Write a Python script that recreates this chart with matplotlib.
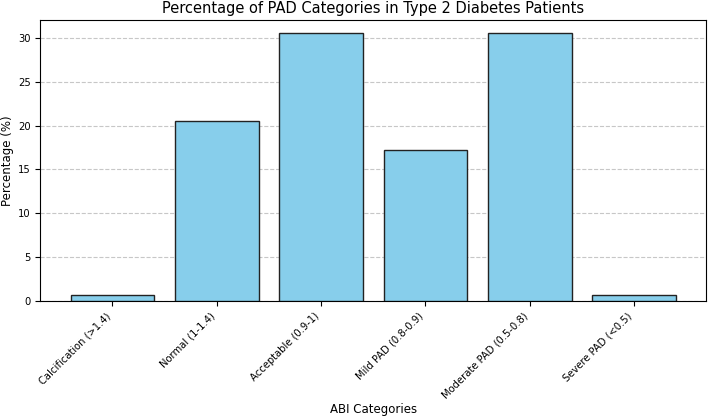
import matplotlib
matplotlib.use("Agg")
import matplotlib.pyplot as plt

categories = ["Calcification (>1.4)", "Normal (1-1.4)", "Acceptable (0.9-1)",
              "Mild PAD (0.8-0.9)", "Moderate PAD (0.5-0.8)", "Severe PAD (<0.5)"]
percentages = [0.7, 20.5, 30.5, 17.2, 30.5, 0.7]

fig, ax = plt.subplots(figsize=(7.09, 4.18), dpi=100)
ax.bar(categories, percentages, color="skyblue", edgecolor="#222222", zorder=3)
ax.set_title("Percentage of PAD Categories in Type 2 Diabetes Patients", fontsize=10.5, pad=5)
ax.set_xlabel("ABI Categories", fontsize=8.5, labelpad=2)
ax.set_ylabel("Percentage (%)", fontsize=8.5, labelpad=3)
ax.tick_params(axis="both", labelsize=7.2)
plt.setp(ax.get_xticklabels(), rotation=45, ha="right")
ax.grid(axis="y", linestyle="--", alpha=0.7, zorder=0)
fig.subplots_adjust(left=0.057, right=0.996, top=0.952, bottom=0.28)
fig.savefig("out.png", dpi=100)
